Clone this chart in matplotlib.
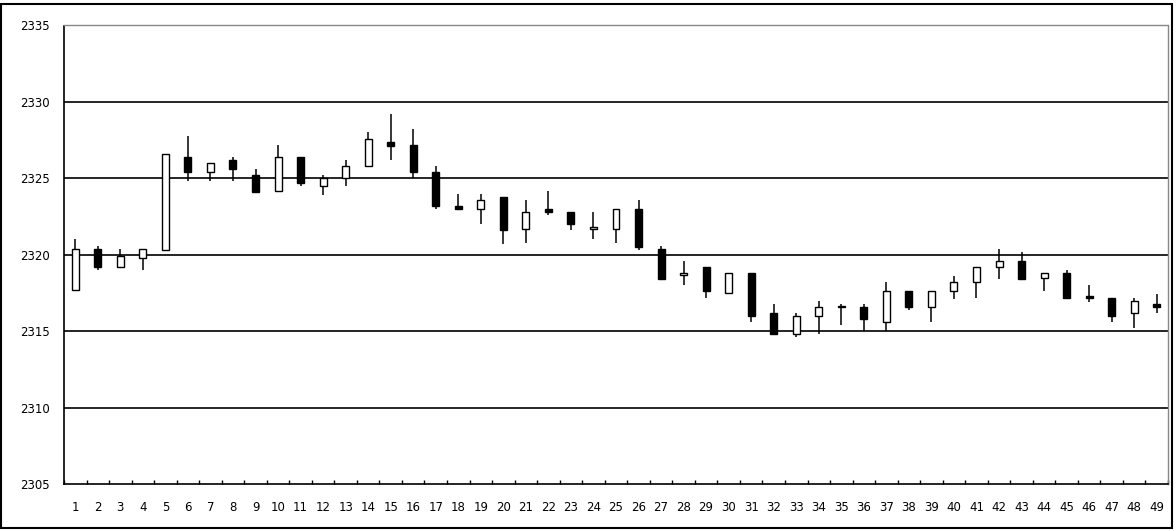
import numpy as np
import matplotlib
matplotlib.use("Agg")
import matplotlib.pyplot as plt
from matplotlib.patches import Rectangle

# datos (velas 1..49)
dias = list(range(1, 50))
apertura = [2317.7, 2320.4, 2319.2, 2319.8, 2320.3, 2326.4, 2325.4, 2326.2, 2325.2, 2324.2,
            2326.4, 2324.5, 2325.0, 2325.8, 2327.4, 2327.2, 2325.4, 2323.2, 2323.0, 2323.8,
            2321.7, 2323.0, 2322.8, 2321.7, 2321.7, 2323.0, 2320.4, 2318.65, 2319.2, 2317.5,
            2318.8, 2316.2, 2314.8, 2316.0, 2316.65, 2316.6, 2315.6, 2317.6, 2316.6, 2317.6,
            2318.2, 2319.2, 2319.6, 2318.45, 2318.8, 2317.3, 2317.2, 2316.2, 2316.8]
maximo = [2321.0, 2320.6, 2320.4, 2320.4, 2326.6, 2327.8, 2326.0, 2326.4, 2325.6, 2327.2,
          2326.4, 2325.2, 2326.2, 2328.0, 2329.2, 2328.2, 2325.8, 2324.0, 2324.0, 2323.8,
          2323.6, 2324.2, 2322.8, 2322.8, 2323.0, 2323.6, 2320.6, 2319.6, 2319.2, 2318.8,
          2318.8, 2316.8, 2316.2, 2317.0, 2316.8, 2316.8, 2318.2, 2317.6, 2317.6, 2318.6,
          2319.2, 2320.4, 2320.2, 2318.8, 2319.0, 2318.0, 2317.2, 2317.2, 2317.4]
minimo = [2317.7, 2319.0, 2319.2, 2319.0, 2320.3, 2324.8, 2324.8, 2324.8, 2324.1, 2324.1,
          2324.5, 2323.9, 2324.5, 2325.8, 2326.2, 2325.0, 2323.0, 2323.0, 2322.0, 2320.7,
          2320.8, 2322.6, 2321.6, 2321.0, 2320.8, 2320.3, 2318.4, 2318.0, 2317.2, 2317.5,
          2315.6, 2314.8, 2314.6, 2314.8, 2315.4, 2315.0, 2315.0, 2316.4, 2315.6, 2317.1,
          2317.2, 2318.4, 2318.4, 2317.6, 2317.2, 2316.9, 2315.6, 2315.2, 2316.2]
cierre = [2320.4, 2319.2, 2319.9, 2320.4, 2326.6, 2325.4, 2326.0, 2325.6, 2324.1, 2326.4,
          2324.7, 2325.0, 2325.8, 2327.6, 2327.1, 2325.4, 2323.2, 2323.0, 2323.6, 2321.6,
          2322.8, 2322.8, 2322.0, 2321.8, 2323.0, 2320.5, 2318.4, 2318.8, 2317.6, 2318.8,
          2316.0, 2314.8, 2316.0, 2316.6, 2316.55, 2315.8, 2317.6, 2316.6, 2317.6, 2318.2,
          2319.2, 2319.6, 2318.4, 2318.8, 2317.2, 2317.2, 2316.0, 2317.0, 2316.6]
yticks = [2305, 2310, 2315, 2320, 2325, 2330, 2335]

o = np.array(apertura)
c = np.array(cierre)
x = np.array(dias)
sube = c >= o
colores = np.where(sube, "white", "black")

fig = plt.figure(figsize=(11.76, 5.31), dpi=100)
ax = fig.add_axes([64 / 1176, 47 / 531, 1104 / 1176, 458.5 / 531])

# rejilla
for v in yticks[1:-1]:
    ax.axhline(v, color="black", lw=1.2, zorder=1)

# mechas y cuerpos
ax.vlines(x, minimo, maximo, color="black", lw=1.1, zorder=2)
alto = np.abs(c - o)
alto = np.where(alto < 0.08, 0.08, alto)
ax.bar(x, alto, bottom=np.minimum(o, c), width=0.31, color=colores,
       edgecolor="black", linewidth=1.0, zorder=3)

ax.set_xlim(0.5, 49.5)
ax.set_ylim(2305, 2335)
ax.set_yticks(yticks)
ax.set_yticklabels([str(v) for v in yticks], fontsize=8.5)
ax.set_xticks(x)
ax.set_xticklabels([str(d) for d in dias], fontsize=8.5, family="DejaVu Sans")
ax.set_xticks(np.arange(0.5, 50.5, 1), minor=True)
ax.tick_params(axis="x", which="major", length=0, pad=12)
ax.tick_params(axis="x", which="minor", direction="in", length=3, width=1)
ax.tick_params(axis="y", length=0, pad=10)

for lado in ["left", "bottom"]:
    ax.spines[lado].set_color("black")
    ax.spines[lado].set_linewidth(1.2)
for lado in ["top", "right"]:
    ax.spines[lado].set_color("#888888")
    ax.spines[lado].set_linewidth(1.0)

# marco exterior
fig.patches.append(Rectangle((1 / 1176, 3 / 531), 1171 / 1176, 524 / 531,
                             transform=fig.transFigure, fill=False,
                             edgecolor="black", linewidth=1.5))

fig.savefig("out.png", dpi=100)
